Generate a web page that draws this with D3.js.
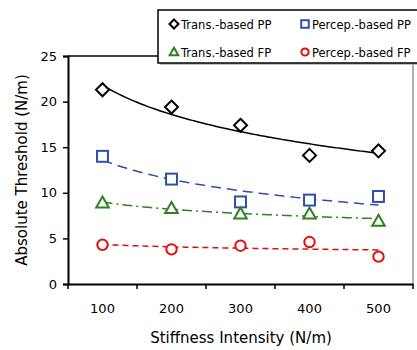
<!DOCTYPE html>
<html><head><meta charset="utf-8">
<script src="https://cdn.jsdelivr.net/npm/d3@7"></script>
<style>body{margin:0;background:#fff}svg{display:block}text{font-family:"DejaVu Sans",Verdana,sans-serif;}</style>
</head><body>
<svg id="c" width="417" height="350"></svg>
<script>
const categories = [100, 200, 300, 400, 500];
const transPP = [21.3, 19.4, 17.4, 14.1, 14.6];
const percepPP = [14.0, 11.5, 9.0, 9.2, 9.6];
const transFP = [8.9, 8.3, 7.7, 7.7, 6.9];
const percepFP = [4.3, 3.8, 4.2, 4.6, 3.0];
const yTicks = [0, 5, 10, 15, 20, 25];

const series = [
  {name: "Trans.-based PP", values: transPP, color: "#000000", shape: "diamond", dash: null},
  {name: "Percep.-based PP", values: percepPP, color: "#2E4FA6", shape: "square", dash: "10,6"},
  {name: "Trans.-based FP", values: transFP, color: "#2F8020", shape: "triangle", dash: "10,4,2,4"},
  {name: "Percep.-based FP", values: percepFP, color: "#E00E0E", shape: "circle", dash: "6,4"}
];

const svg = d3.select("#c");
const L = 68, R = 413, T = 56, B = 284;
const x = d3.scaleBand().domain(categories).range([L, R]);
const xl = d3.scaleLinear().domain([100, 500]).range([x(100) + x.bandwidth()/2, x(500) + x.bandwidth()/2]);
const y = d3.scaleLinear().domain([0, 25]).range([B, T]);

// plot border (right + top)
svg.append("line").attr("x1", R).attr("x2", R).attr("y1", T).attr("y2", B).attr("stroke", "#666").attr("stroke-width", 1);
svg.append("line").attr("x1", L).attr("x2", R).attr("y1", T).attr("y2", T).attr("stroke", "#000").attr("stroke-width", 1.5);

// axes
const ya = svg.append("g").attr("transform", `translate(${L},0)`)
  .call(d3.axisLeft(y).tickValues(yTicks).tickSize(5).tickPadding(6));
ya.select(".domain").attr("stroke-width", 2);
ya.selectAll(".tick line").attr("stroke-width", 1.5);
ya.selectAll("text").style("font-size", "13px").attr("fill", "#000");

const xa = svg.append("g").attr("transform", `translate(0,${B})`)
  .call(d3.axisBottom(x).tickSize(0).tickPadding(20));
xa.select(".domain").attr("stroke-width", 2);
xa.selectAll("text").style("font-size", "13px").attr("fill", "#000");
// boundary ticks
const bounds = categories.map(c => x(c)).concat([R]);
svg.append("g").selectAll("line").data(bounds).join("line")
  .attr("x1", d => d).attr("x2", d => d).attr("y1", B).attr("y2", B + 5)
  .attr("stroke", "#000").attr("stroke-width", 1.5);

// axis titles
svg.append("text").attr("x", 241).attr("y", 343).attr("text-anchor", "middle")
  .style("font-size", "15px").text("Stiffness Intensity (N/m)");
svg.append("text").attr("transform", `translate(27,170) rotate(-90)`).attr("text-anchor", "middle")
  .style("font-size", "15px").text("Absolute Threshold (N/m)");

// logarithmic trendline fit (derived from the data)
function logFit(vals) {
  const lx = categories.map(Math.log);
  const mx = d3.mean(lx), my = d3.mean(vals);
  let sxy = 0, sxx = 0;
  lx.forEach((v, i) => { sxy += (v - mx) * (vals[i] - my); sxx += (v - mx) ** 2; });
  const b = sxy / sxx, a = my - b * mx;
  return xv => a + b * Math.log(xv);
}

const line = d3.line().x(d => xl(d[0])).y(d => y(d[1]));
series.forEach(s => {
  const f = logFit(s.values);
  const pts = d3.range(100, 501, 5).map(v => [v, f(v)]);
  svg.append("path").attr("d", line(pts)).attr("fill", "none")
    .attr("stroke", s.color).attr("stroke-width", 1.5)
    .attr("stroke-dasharray", s.dash);
});

function drawMarker(g, shape, cx, cy, color, size) {
  const sw = 2;
  if (shape === "diamond") {
    const r = size * 0.5;
    g.append("path").attr("d", `M${cx},${cy - r}L${cx + r},${cy}L${cx},${cy + r}L${cx - r},${cy}Z`)
      .attr("fill", "#fff").attr("stroke", color).attr("stroke-width", sw);
  } else if (shape === "square") {
    const r = size * 0.42;
    g.append("rect").attr("x", cx - r).attr("y", cy - r).attr("width", 2 * r).attr("height", 2 * r)
      .attr("fill", "#fff").attr("stroke", color).attr("stroke-width", sw);
  } else if (shape === "triangle") {
    const r = size * 0.48;
    g.append("path").attr("d", `M${cx},${cy - r}L${cx + r},${cy + r * 0.75}L${cx - r},${cy + r * 0.75}Z`)
      .attr("fill", "#fff").attr("stroke", color).attr("stroke-width", sw);
  } else {
    g.append("circle").attr("cx", cx).attr("cy", cy).attr("r", size * 0.4)
      .attr("fill", "#fff").attr("stroke", color).attr("stroke-width", sw);
  }
}

series.forEach(s => {
  const g = svg.append("g");
  s.values.forEach((v, i) => drawMarker(g, s.shape, x(categories[i]) + x.bandwidth() / 2, y(v), s.color, 13));
});

// legend
const lg = svg.append("g");
lg.append("rect").attr("x", 160).attr("y", 12).attr("width", 260).attr("height", 53).attr("fill", "#999").attr("opacity", 0.6);
lg.append("rect").attr("x", 158).attr("y", 10).attr("width", 260).attr("height", 53)
  .attr("fill", "#fff").attr("stroke", "#000").attr("stroke-width", 1.5);
const pos = [[174, 24], [305, 24], [174, 52], [305, 52]];
series.forEach((s, k) => {
  const [lx, ly] = pos[k];
  drawMarker(lg, s.shape, lx, ly, s.color, 9);
  lg.append("text").attr("x", lx + 7).attr("y", ly + 4.5).style("font-size", "11.5px").text(s.name);
});
</script>
</body></html>
